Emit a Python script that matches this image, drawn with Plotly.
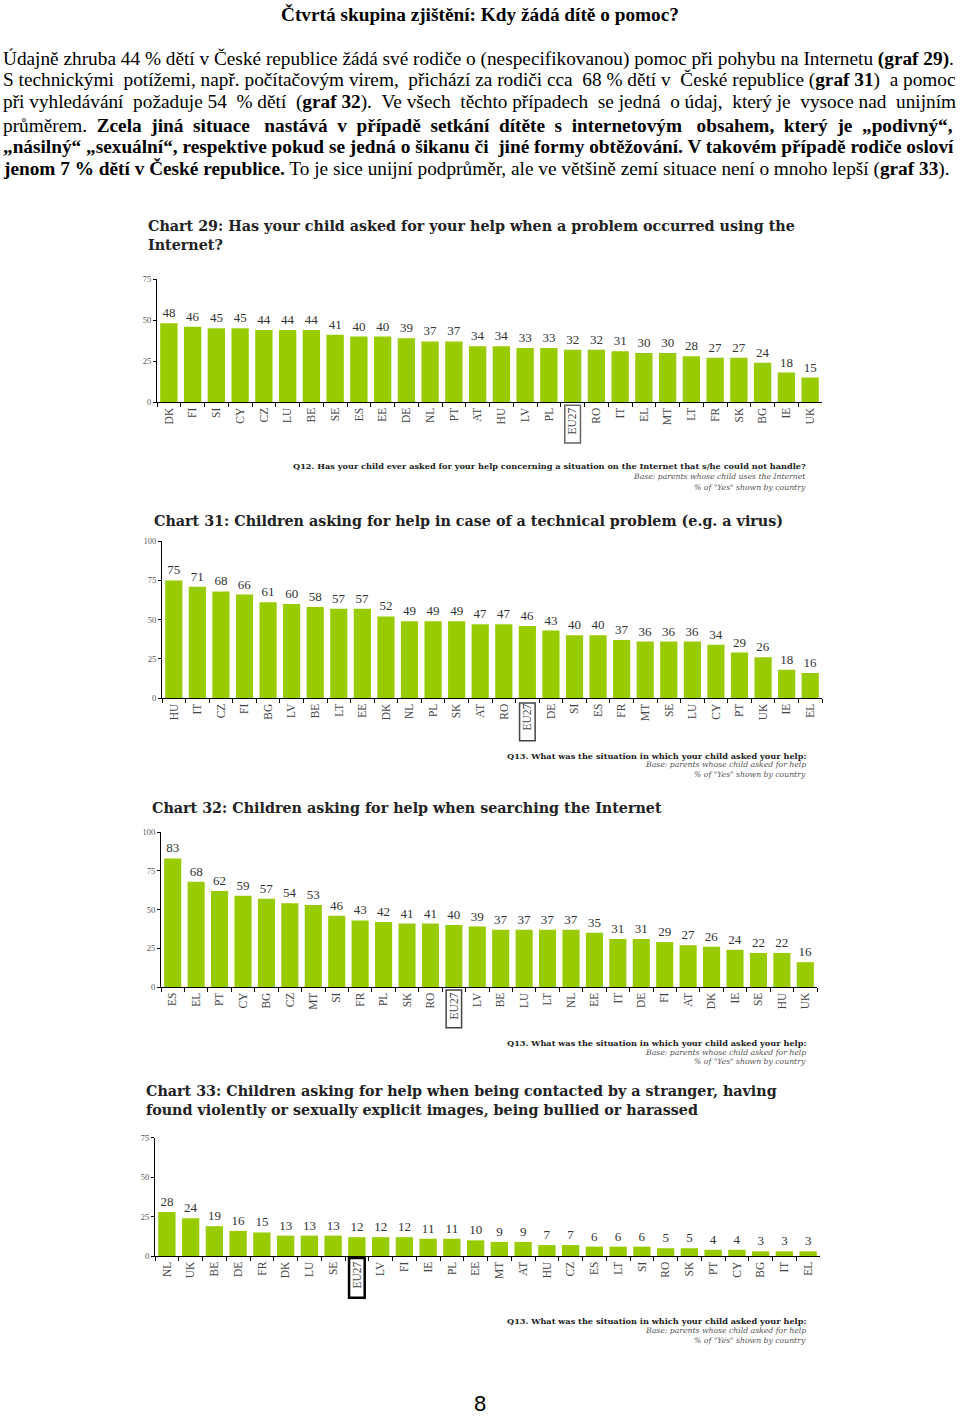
import plotly.graph_objects as go

W, H = 960, 1416

# ---------------- data ----------------
c29_countries = ["DK", "FI", "SI", "CY", "CZ", "LU", "BE", "SE", "ES", "EE", "DE", "NL", "PT", "AT",
                 "HU", "LV", "PL", "EU27", "RO", "IT", "EL", "MT", "LT", "FR", "SK", "BG", "IE", "UK"]
c29_values = [48, 46, 45, 45, 44, 44, 44, 41, 40, 40, 39, 37, 37, 34,
              34, 33, 33, 32, 32, 31, 30, 30, 28, 27, 27, 24, 18, 15]

c31_countries = ["HU", "IT", "CZ", "FI", "BG", "LV", "BE", "LT", "EE", "DK", "NL", "PL", "SK", "AT",
                 "RO", "EU27", "DE", "SI", "ES", "FR", "MT", "SE", "LU", "CY", "PT", "UK", "IE", "EL"]
c31_values = [75, 71, 68, 66, 61, 60, 58, 57, 57, 52, 49, 49, 49, 47,
              47, 46, 43, 40, 40, 37, 36, 36, 36, 34, 29, 26, 18, 16]

c32_countries = ["ES", "EL", "PT", "CY", "BG", "CZ", "MT", "SI", "FR", "PL", "SK", "RO", "EU27", "LV",
                 "BE", "LU", "LT", "NL", "EE", "IT", "DE", "FI", "AT", "DK", "IE", "SE", "HU", "UK"]
c32_values = [83, 68, 62, 59, 57, 54, 53, 46, 43, 42, 41, 41, 40, 39,
              37, 37, 37, 37, 35, 31, 31, 29, 27, 26, 24, 22, 22, 16]

c33_countries = ["NL", "UK", "BE", "DE", "FR", "DK", "LU", "SE", "EU27", "LV", "FI", "IE", "PL", "EE",
                 "MT", "AT", "HU", "CZ", "ES", "LT", "SI", "RO", "SK", "PT", "CY", "BG", "IT", "EL"]
c33_values = [28, 24, 19, 16, 15, 13, 13, 13, 12, 12, 12, 11, 11, 10,
              9, 9, 7, 7, 6, 6, 6, 5, 5, 4, 4, 3, 3, 3]

y_ticks_75 = [0, 25, 50, 75]
y_ticks_100 = [0, 25, 50, 75, 100]

page_title = "Čtvrtá skupina zjištění: Kdy žádá dítě o pomoc?"
page_lines = [
    "Údajně zhruba 44 % dětí v České republice žádá své rodiče o (nespecifikovanou) pomoc při pohybu na Internetu <b>(graf 29)</b>.",
    "S technickými potížemi, např. počítačovým virem, přichází za rodiči cca 68 % dětí v České republice (<b>graf 31</b>) a pomoc",
    "při vyhledávání požaduje 54 % dětí (<b>graf 32</b>). Ve všech těchto případech se jedná o údaj, který je vysoce nad unijním",
    "průměrem. <b>Zcela jiná situace nastává v případě setkání dítěte s internetovým obsahem, který je „podivný“,</b>",
    "<b>„násilný“ „sexuální“, respektive pokud se jedná o šikanu či jiné formy obtěžování. V takovém případě rodiče osloví</b>",
    "<b>jenom 7 % dětí v České republice.</b> To je sice unijní podprůměr, ale ve většině zemí situace není o mnoho lepší (<b>graf 33</b>).",
]
page_number = "8"

notes_q12 = ["Q12. Has your child ever asked for your help concerning a situation on the Internet that s/he could not handle?",
             "Base: parents whose child uses the Internet",
             "% of \"Yes\" shown by country"]
notes_q13 = ["Q13. What was the situation in which your child asked your help:",
             "Base: parents whose child asked for help",
             "% of \"Yes\" shown by country"]

# ---------------- layout config ----------------
def py(px):
    return 1 - px / H

def px_x(px):
    return px / W

# extra non-breaking spaces used to imitate the justified paragraph lines
line_extra_spaces = [0, 5, 10, 16, 1, 0]
line_y = [54, 76, 98, 121, 143, 165]


def justify(line, extra):
    parts = line.split(" ")
    gaps = len(parts) - 1
    if extra <= 0 or gaps <= 0:
        return line
    counts = [0] * gaps
    for n in range(extra):
        counts[int((n + 0.5) * gaps / extra) % gaps] += 1
    out = parts[0]
    for g in range(gaps):
        out += " " + "\u00a0" * counts[g] + parts[g + 1]
    return out


charts = [
    dict(cats=c29_countries, vals=c29_values, ymax=75, yticks=y_ticks_75,
         xpx=(157, 822), ypx=(276, 400), box=(403, 441), boxstyle=("#666", 1.5),
         title=["Chart 29: Has your child asked for your help when a problem occurred using the", "Internet?"],
         tx=146, ty=[223, 242], notes=notes_q12, ny=[464, 475, 486]),
    dict(cats=c31_countries, vals=c31_values, ymax=100, yticks=y_ticks_100,
         xpx=(162, 822), ypx=(540, 698), box=(703, 741), boxstyle=("#444", 1.5),
         title=["Chart 31: Children asking for help in case of a technical problem (e.g. a virus)"],
         tx=152, ty=[520], notes=notes_q13, ny=[756, 765, 775]),
    dict(cats=c32_countries, vals=c32_values, ymax=100, yticks=y_ticks_100,
         xpx=(161, 817), ypx=(833, 989), box=(992, 1030), boxstyle=("#444", 1.5),
         title=["Chart 32: Children asking for help when searching the Internet"],
         tx=150, ty=[809], notes=notes_q13, ny=[1045, 1055, 1064]),
    dict(cats=c33_countries, vals=c33_values, ymax=75, yticks=y_ticks_75,
         xpx=(155, 820), ypx=(1141, 1260), box=(1262, 1302), boxstyle=("#000", 2.5),
         title=["Chart 33: Children asking for help when being contacted by a stranger, having",
                "found violently or sexually explicit images, being bullied or harassed"],
         tx=144, ty=[1094, 1113], notes=notes_q13, ny=[1325, 1335, 1345]),
]

SERIF = "Liberation Serif, Times New Roman, serif"
WIDE_SERIF = "DejaVu Serif, Georgia, serif"
BAR = "#99cc00"

fig = go.Figure()
layout = dict(width=W, height=H, margin=dict(l=0, r=0, t=0, b=0),
              paper_bgcolor="white", plot_bgcolor="white", showlegend=False,
              bargap=0.27)
annotations = []
shapes = []

for k, c in enumerate(charts, start=1):
    xa = "x" if k == 1 else f"x{k}"
    ya = "y" if k == 1 else f"y{k}"
    fig.add_trace(go.Bar(
        x=c["cats"], y=c["vals"], xaxis=xa, yaxis=ya,
        marker=dict(color=BAR, line=dict(width=0)),
        text=[str(v) for v in c["vals"]], textposition="outside",
        textfont=dict(family=SERIF, size=13, color="#333"),
        cliponaxis=False, hoverinfo="skip"))
    layout[f"xaxis{'' if k == 1 else k}"] = dict(
        domain=[px_x(c["xpx"][0]), px_x(c["xpx"][1])], anchor=ya,
        type="category", showline=True, linecolor="#000", linewidth=1,
        ticks="outside", tickson="boundaries", ticklen=4, tickcolor="#000",
        tickangle=-90, tickfont=dict(family=SERIF, size=11.5, color="#444"),
        showgrid=False, zeroline=False, fixedrange=True)
    layout[f"yaxis{'' if k == 1 else k}"] = dict(
        domain=[py(c["ypx"][1]), py(c["ypx"][0])], anchor=xa,
        range=[0, c["ymax"]], tickvals=c["yticks"], showline=True,
        linecolor="#000", linewidth=1, ticks="outside", ticklen=3, tickcolor="#000",
        tickfont=dict(family=SERIF, size=8.5, color="#555"),
        showgrid=False, zeroline=False, fixedrange=True)
    # EU27 box
    i = c["cats"].index("EU27")
    shapes.append(dict(type="rect", xref=xa, yref="paper",
                       x0=i - 0.33, x1=i + 0.33, y0=py(c["box"][1]), y1=py(c["box"][0]),
                       line=dict(color=c["boxstyle"][0], width=c["boxstyle"][1]),
                       fillcolor="rgba(0,0,0,0)"))
    # titles
    for line, yy in zip(c["title"], c["ty"]):
        annotations.append(dict(text=f"<b>{line}</b>", x=px_x(c["tx"]), y=py(yy),
                                xref="paper", yref="paper", xanchor="left", yanchor="middle",
                                showarrow=False, font=dict(family=WIDE_SERIF, size=14.3, color="#222")))
    # notes
    for j, (line, yy) in enumerate(zip(c["notes"], c["ny"])):
        txt = f"<b>{line}</b>" if j == 0 else f"<i>{line}</i>"
        annotations.append(dict(text=txt, x=px_x(808), y=py(yy),
                                xref="paper", yref="paper", xanchor="right", yanchor="middle",
                                showarrow=False,
                                font=dict(family=WIDE_SERIF, size=8.2 if j == 0 else 7.7,
                                          color="#222" if j == 0 else "#555")))

# page text
annotations.append(dict(text=f"<b>{page_title}</b>", x=0.5, y=py(10), xref="paper", yref="paper",
                        xanchor="center", yanchor="middle", showarrow=False,
                        font=dict(family=SERIF, size=19.3, color="#000")))
for line, yy, extra in zip(page_lines, line_y, line_extra_spaces):
    annotations.append(dict(text=justify(line, extra), x=px_x(1), y=py(yy), xref="paper", yref="paper",
                            xanchor="left", yanchor="middle", showarrow=False,
                            font=dict(family=SERIF, size=19.3, color="#000")))
annotations.append(dict(text=page_number, x=0.5, y=py(1408), xref="paper", yref="paper",
                        xanchor="center", yanchor="middle", showarrow=False,
                        font=dict(family="Liberation Sans, Arial, sans-serif", size=22, color="#000")))

layout["annotations"] = annotations
layout["shapes"] = shapes
fig.update_layout(**layout)

fig.write_html("out.html", config={"displayModeBar": False},
               post_script="document.body.style.margin='0';document.body.style.overflow='hidden';")
